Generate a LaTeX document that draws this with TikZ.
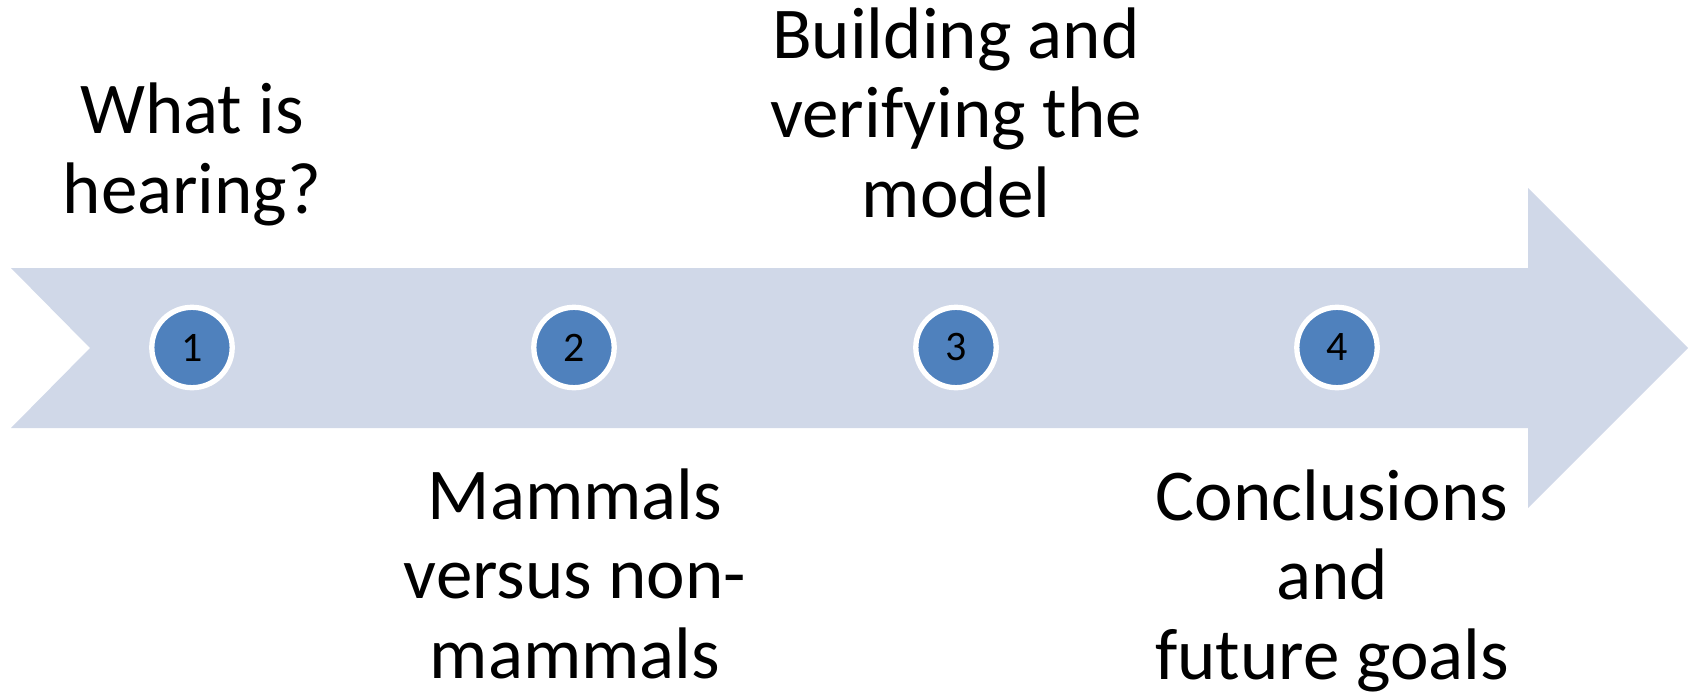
\documentclass[tikz,border=0pt]{standalone}
\usepackage{fontspec}
\setmainfont{Carlito}
\definecolor{arrowfill}{HTML}{D0D8E8}
\definecolor{dotfill}{HTML}{4F81BD}
\begin{document}
\begin{tikzpicture}[x=1pt,y=-1pt,
  label text/.style={align=center,inner sep=0pt,anchor=base,
    font=\fontsize{73}{79.5}\selectfont},
  stepdot/.style={circle,fill=dotfill,draw=white,line width=5.3pt,
    minimum size=80.4pt,inner sep=0pt,font=\fontsize{42}{48}\selectfont}]
\useasboundingbox (0,0) rectangle (1694,693);
\fill[arrowfill] (11,268) -- (1528,268) -- (1528,188) -- (1688,348)
  -- (1528,508) -- (1528,428) -- (11,428) -- (90,348) -- cycle;
\node[stepdot] (d1) at (192,347.5) {1};
\node[stepdot] (d2) at (574,347.5) {2};
\node[stepdot] (d3) at (956,347.5) {3};
\node[stepdot] (d4) at (1337,347.5) {4};
\node[label text] (t1) at (192,213) {What is\\hearing?};
\node[label text] (t2) at (575,678) {Mammals\\versus non-\\mammals};
\node[label text] (t3) at (956,217) {Building and\\verifying the\\model};
\node[label text] (t4) at (1332,679) {Conclusions\\and\\future goals};
\end{tikzpicture}
\end{document}
